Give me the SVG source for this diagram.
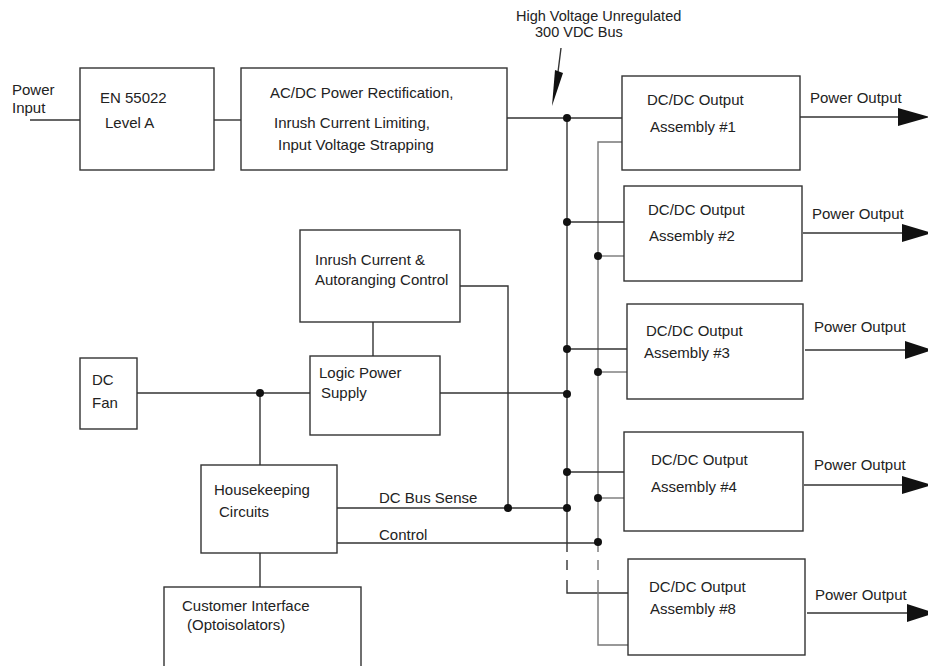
<svg xmlns="http://www.w3.org/2000/svg" width="928" height="666" viewBox="0 0 928 666">
<style>
text{font-family:"Liberation Sans",Arial,sans-serif;font-size:15px;fill:#222}
.ann{font-size:14.5px}
.box{fill:#fff;stroke:#333;stroke-width:1.4}
.ln{fill:none;stroke:#333;stroke-width:1.4}
.lg{fill:none;stroke:#777;stroke-width:1.4}
.dot{fill:#111}
.ah{fill:#111}
</style>
<rect width="928" height="666" fill="#fff"/>
<g id="connectors">
<path class="ln" d="M30 120H80"/>
<path class="ln" d="M214 120H241"/>
<path class="ln" d="M507 118H622"/>
<path class="ln" d="M567 118V552M567 560V570M567 580V593H628"/>
<path class="lg" d="M622 142H598V552M598 560V570M598 580V645H628"/>
<path class="ln" d="M567 222H624"/>
<path class="lg" d="M598 256H624"/>
<path class="ln" d="M567 349H627"/>
<path class="lg" d="M598 372H627"/>
<path class="ln" d="M567 472H624"/>
<path class="lg" d="M598 498H624"/>
<path class="ln" d="M440 393H567"/>
<path class="ln" d="M137 393H310"/>
<path class="ln" d="M260 393V465"/>
<path class="ln" d="M373 322V356"/>
<path class="ln" d="M460 286H508V508"/>
<path class="ln" d="M337 508H567"/>
<path class="ln" d="M337 543H598"/>
<path class="ln" d="M260 553V587"/>
<path class="ln" d="M561 48L558 72"/>
<polygon class="ah" points="555,70 563,73 552,106"/>
<path class="ln" d="M800 117H898"/>
<polygon class="ah" points="898,108 930,117 898,126"/>
<path class="ln" d="M803 233H902"/>
<polygon class="ah" points="902,224 932,233 902,242"/>
<path class="ln" d="M805 350H905"/>
<polygon class="ah" points="905,341 933,350 905,359"/>
<path class="ln" d="M804 485H902"/>
<polygon class="ah" points="902,476 932,485 902,494"/>
<path class="ln" d="M807 613H907"/>
<polygon class="ah" points="907,604 935,613 907,622"/>
<circle class="dot" cx="567" cy="118" r="4"/>
<circle class="dot" cx="567" cy="222" r="4"/>
<circle class="dot" cx="598" cy="256" r="4"/>
<circle class="dot" cx="567" cy="349" r="4"/>
<circle class="dot" cx="598" cy="372" r="4"/>
<circle class="dot" cx="567" cy="394" r="4"/>
<circle class="dot" cx="567" cy="472" r="4"/>
<circle class="dot" cx="598" cy="498" r="4"/>
<circle class="dot" cx="508" cy="508" r="4"/>
<circle class="dot" cx="567" cy="508" r="4"/>
<circle class="dot" cx="598" cy="542" r="4"/>
<circle class="dot" cx="260" cy="393" r="4"/>
</g>
<g id="labels">
<text x="12" y="95">Power</text>
<text x="12" y="113">Input</text>
<text class="ann" x="516" y="21">High Voltage Unregulated</text>
<text class="ann" x="535" y="37">300 VDC Bus</text>
<text x="810" y="103">Power Output</text>
<text x="812" y="219">Power Output</text>
<text x="814" y="332">Power Output</text>
<text x="814" y="470">Power Output</text>
<text x="815" y="600">Power Output</text>
<text x="379" y="503">DC Bus Sense</text>
<text x="379" y="540">Control</text>
</g>
<g id="en55022">
<rect class="box" x="80" y="68" width="134" height="102"/>
<text x="100" y="103">EN 55022</text>
<text x="105" y="128">Level A</text>
</g>
<g id="acdc">
<rect class="box" x="241" y="68" width="266" height="102"/>
<text x="270" y="98">AC/DC Power Rectification,</text>
<text x="274" y="128">Inrush Current Limiting,</text>
<text x="278" y="150">Input Voltage Strapping</text>
</g>
<g id="dcdc1">
<rect class="box" x="622" y="76" width="178" height="94"/>
<text x="647" y="105">DC/DC Output</text>
<text x="650" y="132">Assembly #1</text>
</g>
<g id="dcdc2">
<rect class="box" x="624" y="186" width="178" height="95"/>
<text x="648" y="215">DC/DC Output</text>
<text x="649" y="241">Assembly #2</text>
</g>
<g id="dcdc3">
<rect class="box" x="627" y="304" width="176" height="95"/>
<text x="646" y="336">DC/DC Output</text>
<text x="644" y="358">Assembly #3</text>
</g>
<g id="dcdc4">
<rect class="box" x="624" y="432" width="179" height="99"/>
<text x="651" y="465">DC/DC Output</text>
<text x="651" y="492">Assembly #4</text>
</g>
<g id="dcdc8">
<rect class="box" x="628" y="559" width="177" height="96"/>
<text x="649" y="592">DC/DC Output</text>
<text x="650" y="614">Assembly #8</text>
</g>
<g id="inrush">
<rect class="box" x="300" y="230" width="160" height="92"/>
<text x="315" y="265">Inrush Current &amp;</text>
<text x="315" y="285">Autoranging Control</text>
</g>
<g id="logic">
<rect class="box" x="310" y="356" width="130" height="79"/>
<text x="319" y="378">Logic Power</text>
<text x="321" y="398">Supply</text>
</g>
<g id="fan">
<rect class="box" x="80" y="358" width="57" height="71"/>
<text x="92" y="385">DC</text>
<text x="92" y="408">Fan</text>
</g>
<g id="housekeeping">
<rect class="box" x="201" y="465" width="136" height="88"/>
<text x="214" y="495">Housekeeping</text>
<text x="219" y="517">Circuits</text>
</g>
<g id="customer">
<rect class="box" x="164" y="587" width="197" height="90"/>
<text x="182" y="611">Customer Interface</text>
<text x="187" y="630">(Optoisolators)</text>
</g>
</svg>
